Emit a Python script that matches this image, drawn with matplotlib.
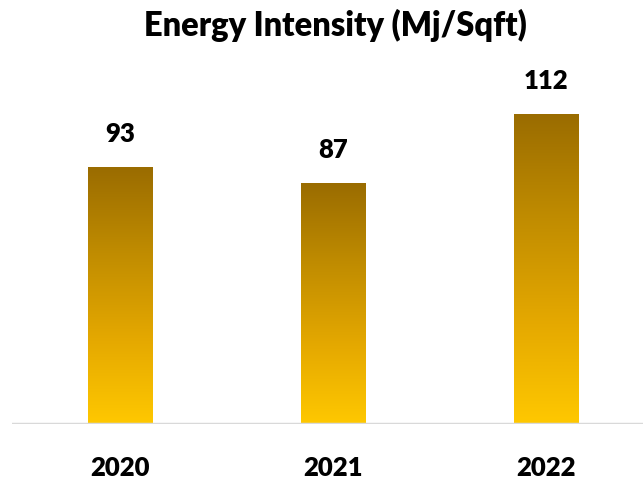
import matplotlib
matplotlib.use("Agg")
import matplotlib.pyplot as plt
import numpy as np
from matplotlib.colors import LinearSegmentedColormap

years = ["2020", "2021", "2022"]
values = [93, 87, 112]
title = "Energy Intensity (Mj/Sqft)"

plt.rcParams['font.family'] = ['Lato', 'DejaVu Sans']

fig = plt.figure(figsize=(6.43, 4.83), dpi=100)
W, H = 643, 483
ax = fig.add_axes([12 / W, (H - 424) / H, (643 - 12) / W, (424 - 60) / H])
ppu = 213.0
ax.axis('off')

cmap = LinearSegmentedColormap.from_list("gold", ["#FFC800", "#E4A800", "#C08C00", "#9A6C00"])
grad = np.linspace(0, 1, 256).reshape(-1, 1)
bw = 0.305
x = np.arange(len(years))
bars = ax.bar(x, values, width=bw, color='none', edgecolor='none')
for b, v in zip(bars, values):
    x0 = b.get_x()
    ax.imshow(grad, extent=[x0, x0 + bw, 0, v], origin='lower', cmap=cmap,
              aspect='auto', zorder=2, interpolation='bicubic')
    ax.annotate(f"{v}", (b.get_x() + bw / 2, v), xytext=(0, 24), textcoords='offset points',
                ha='center', va='center', fontsize=18.5, fontweight='heavy', color='black')
ax.set_xlim(-108 / ppu, (643 - 120) / ppu)
ax.set_ylim(0, 364 / 2.763)
ax.axhline(0, color='#D9D9D9', lw=2.5, zorder=3)

for xi, yr in zip(x, years):
    ax.annotate(yr, (xi, 0), xytext=(0, -32), textcoords='offset points',
                ha='center', va='center', fontsize=18.5, fontweight='heavy', color='black')

fig.text(335 / W, 1 - 25 / H, title, ha='center', va='center', fontsize=23.5, fontweight='heavy')

fig.savefig("out.png", dpi=100)
